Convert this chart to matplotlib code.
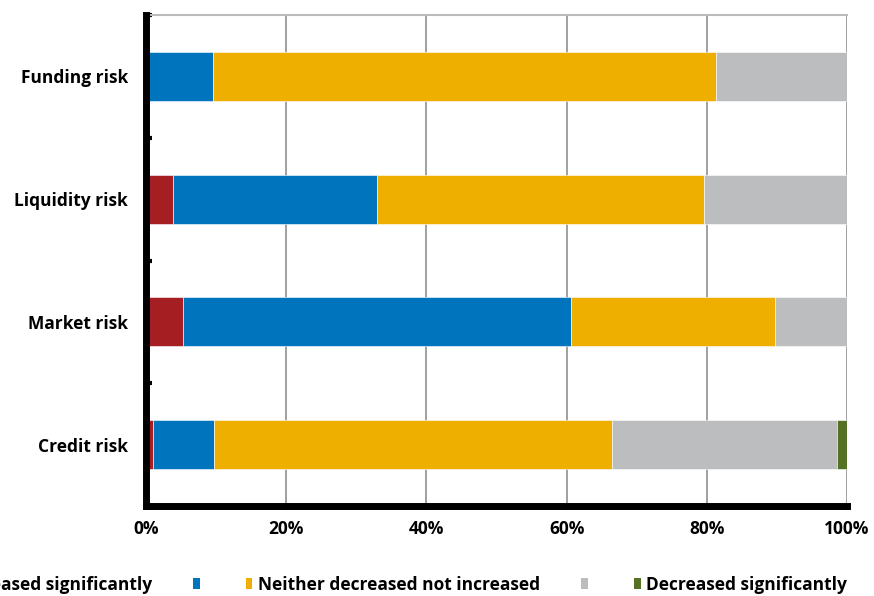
import matplotlib
matplotlib.use("Agg")
import matplotlib.pyplot as plt
from matplotlib.patches import Patch
from matplotlib.ticker import FixedLocator, PercentFormatter

categories = ["Credit risk", "Market risk", "Liquidity risk", "Funding risk"]
series_names = ["Increased significantly", "", "Neither decreased not increased", "", "Decreased significantly"]
inc_sig = [1.0, 5.3, 3.9, 0.0]
inc = [8.7, 55.3, 29.1, 9.6]
neither = [56.8, 29.1, 46.6, 71.7]
dec = [32.1, 10.3, 20.4, 18.7]
dec_sig = [1.4, 0.0, 0.0, 0.0]
colors = ["#A51E22", "#0075BE", "#EEAF00", "#BCBDBF", "#557224"]
xticks = [0, 20, 40, 60, 80, 100]

plt.rcParams['font.family'] = ['Open Sans', 'DejaVu Sans']

fig = plt.figure(figsize=(8.74, 5.96), dpi=100)
ax = fig.add_axes([146/874, 1-506/596, (847-146)/874, (506-15)/596])

series = [inc_sig, inc, neither, dec, dec_sig]
ypos = list(range(len(categories)))
left = [0.0]*len(categories)
for vals, col in zip(series, colors):
    ax.barh(ypos, vals, left=left, height=0.4, color=col, edgecolor='white', linewidth=0.4, zorder=3)
    left = [l+v for l, v in zip(left, vals)]

ax.set_xlim(0, 100)
ax.set_ylim(-0.5, len(categories)-0.5)
ax.set_xticks(xticks)
ax.xaxis.set_major_formatter(PercentFormatter(decimals=0))
ax.set_yticks(ypos)
ax.set_yticklabels(categories)
ax.yaxis.set_minor_locator(FixedLocator([i+0.5 for i in range(len(categories))]))
ax.tick_params(axis='y', which='major', length=0, pad=13, labelsize=12.5)
ax.tick_params(axis='y', which='minor', length=4, width=3, direction='in', color='black')
ax.tick_params(axis='x', which='major', length=3, width=3, direction='out', pad=7, labelsize=12.5)
for lab in ax.get_xticklabels()+ax.get_yticklabels():
    lab.set_fontweight('bold')

ax.grid(axis='x', color='#999999', linewidth=1.3, zorder=0)
ax.set_axisbelow(True)
for s in ['left', 'bottom']:
    ax.spines[s].set_linewidth(5)
    ax.spines[s].set_color('black')
    ax.spines[s].set_zorder(5)
ax.spines['right'].set_visible(False)
ax.spines['top'].set_color('#BBBBBB')
ax.spines['top'].set_linewidth(1.5)

handles = [Patch(facecolor=c, edgecolor='none') for c in colors]
leg = fig.legend(handles, series_names, loc='center', bbox_to_anchor=(396/874, 1-585/596),
                 ncol=5, frameon=False, handlelength=0.35, handleheight=0.6,
                 handletextpad=0.3, columnspacing=2.4, prop={'weight': 'bold', 'size': 12.5})

fig.savefig("out.png", dpi=100)
